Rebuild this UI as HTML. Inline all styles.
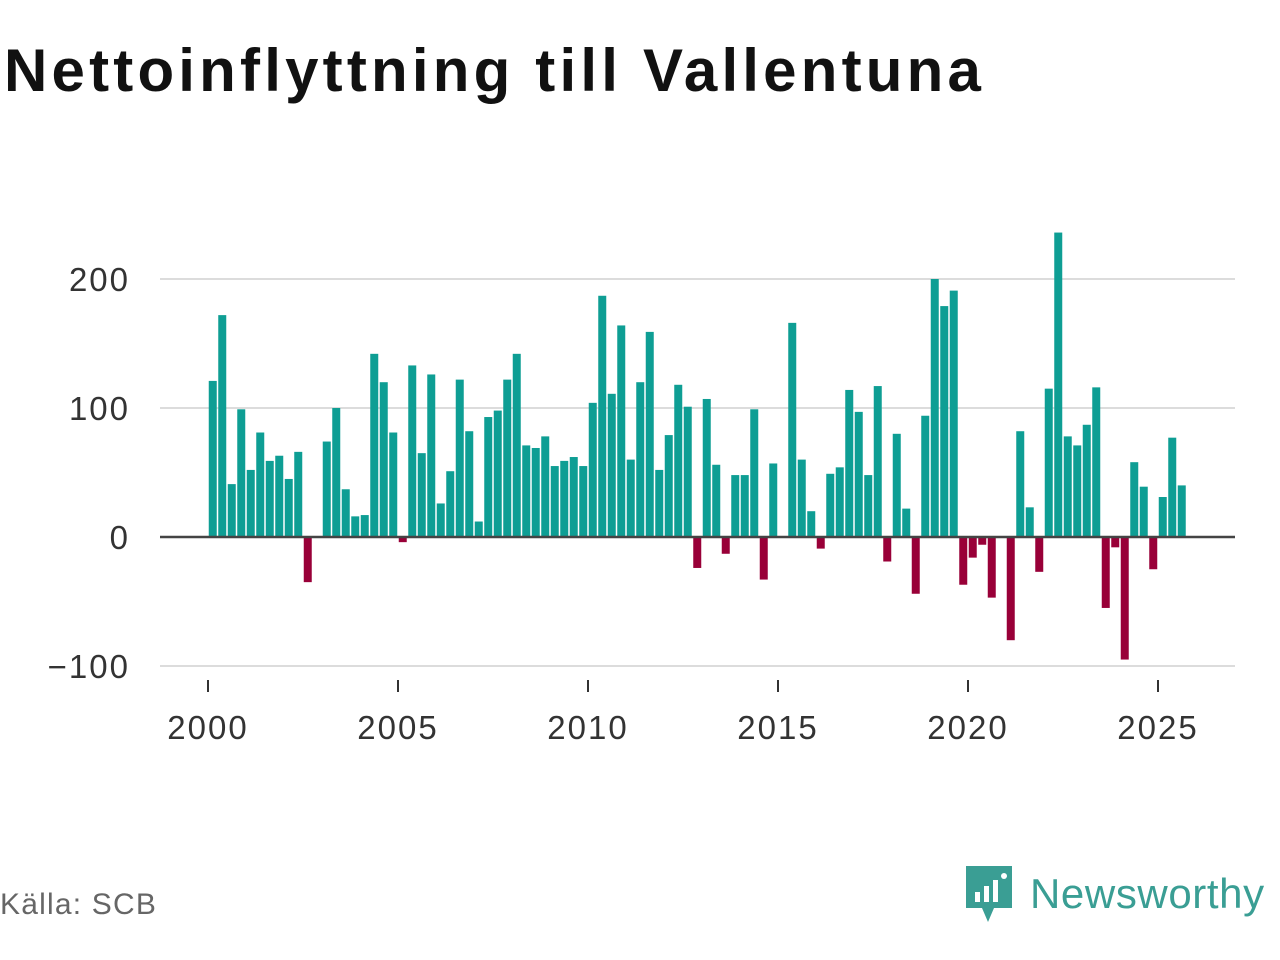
<!DOCTYPE html>
<html><head><meta charset="utf-8"><style>
body{margin:0;background:#fff;width:1280px;height:960px;overflow:hidden;font-family:"Liberation Sans","DejaVu Sans",sans-serif}
#title{position:absolute;left:4px;top:36px;font-size:60px;font-weight:bold;color:#111;letter-spacing:4.2px;margin:0}
#src{position:absolute;left:0;top:888px;font-size:30px;color:#666;letter-spacing:1.2px}
#logo{position:absolute;left:964px;top:864px;display:flex;align-items:center}
#logo span{font-size:42px;color:#3a9e94;margin-left:16px;letter-spacing:0.6px}
</style></head><body>
<h1 id="title">Nettoinflyttning till Vallentuna</h1>
<svg id="chart" width="1280" height="960" style="position:absolute;left:0;top:0"></svg>
<div id="src">Källa: SCB</div>
<div id="logo">
<svg width="50" height="60" viewBox="0 0 50 60"><path d="M2 2 H48 V44 H30 L24 58 L18 44 H2 Z" fill="#3a9e94"/><rect x="11" y="28" width="5" height="10" fill="#fff"/><rect x="20" y="22" width="5" height="16" fill="#fff"/><rect x="29" y="16" width="5" height="22" fill="#fff"/><circle cx="40" cy="12" r="3" fill="#fff"/></svg>
<span>Newsworthy</span></div>
<script>
const values=[121,172,41,99,52,81,59,63,45,66,-35,0,74,100,37,16,17,142,120,81,-4,133,65,126,26,51,122,82,12,93,98,122,142,71,69,78,55,59,62,55,104,187,111,164,60,120,159,52,79,118,101,-24,107,56,-13,48,48,99,-33,57,0,166,60,20,-9,49,54,114,97,48,117,-19,80,22,-44,94,200,179,191,-37,-16,-6,-47,0,-80,82,23,-27,115,236,78,71,87,116,-55,-8,-95,58,39,-25,31,77,40];
const startYear=2000;
const yTicks=[-100,0,100,200];
const xTicks=[2000,2005,2010,2015,2020,2025];
const svg=document.getElementById('chart');const NS='http://www.w3.org/2000/svg';
const y=v=>537-v*1.29; const x=t=>208+(t-startYear)*38;
function mk(tag,a){const e=document.createElementNS(NS,tag);for(const k in a)e.setAttribute(k,a[k]);svg.appendChild(e);return e;}
yTicks.forEach(t=>{
 if(t!==0){const g=mk('line',{x1:160,x2:1235,y1:y(t),y2:y(t),stroke:'#dcdcdc','stroke-width':2});
 
 }
 const l=mk('text',{x:130,y:y(t)+12,'text-anchor':'end','font-size':33,'letter-spacing':2,fill:'#333','font-family':'Liberation Sans, sans-serif'});
 l.textContent=t<0?'\u2212'+(-t):t;
 
 
});
values.forEach((v,i)=>{
 const cx=x(startYear+(i+0.5)/4);
 const r=mk('rect',{x:cx-4,y:Math.min(y(v),y(0)),width:8,height:Math.abs(y(v)-y(0)),fill:v>=0?'#0e9e94':'#990038'});
 
 
});
const z=mk('line',{x1:160,x2:1235,y1:y(0),y2:y(0),stroke:'#444','stroke-width':2.5});


xTicks.forEach(t=>{
 const tk=mk('line',{x1:x(t),x2:x(t),y1:680,y2:692,stroke:'#333','stroke-width':2});
 
 
 const l=mk('text',{x:x(t),y:739,'text-anchor':'middle','font-size':33,'letter-spacing':2,fill:'#333','font-family':'Liberation Sans, sans-serif'});
 l.textContent=t;
 
 
});
</script>
</body></html>
